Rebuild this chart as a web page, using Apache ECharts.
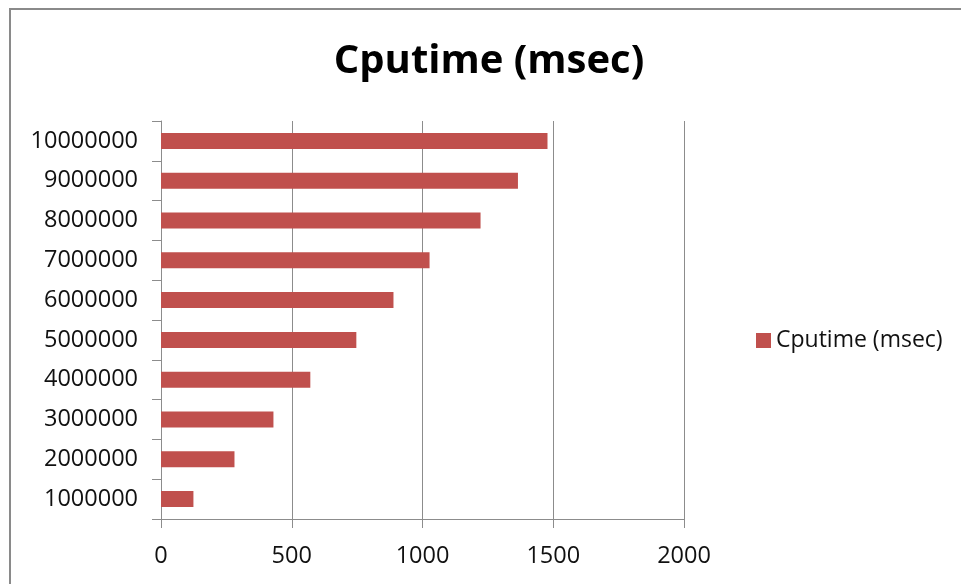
<!DOCTYPE html>
<html>
<head>
<meta charset="utf-8">
<script src="https://cdn.jsdelivr.net/npm/echarts@6/dist/echarts.min.js"></script>
<style>
  html, body { margin: 0; padding: 0; background: #fff; }
  #chart { width: 961px; height: 584px; }
</style>
</head>
<body>
<div id="chart"></div>
<script>
// Problem sizes (bottom to top) and measured CPU time in milliseconds
const sizes = ['1000000', '2000000', '3000000', '4000000', '5000000',
               '6000000', '7000000', '8000000', '9000000', '10000000'];
const cputime = [124, 281, 430, 571, 747, 889, 1027, 1222, 1365, 1478];
const seriesName = 'Cputime (msec)';
const xMin = 0, xMax = 2000, xStep = 500;

const font = '"Open Sans", Lato, sans-serif';
const chart = echarts.init(document.getElementById('chart'));
chart.setOption({
  backgroundColor: '#fff',
  animation: false,
  title: {
    text: seriesName,
    left: 484,
    top: 37,
    textAlign: 'center',
    textStyle: { fontFamily: font, fontSize: 40, fontWeight: 'bold', color: '#000' }
  },
  legend: {
    data: [seriesName],
    left: 751,
    top: 324,
    itemWidth: 15,
    itemHeight: 15,
    itemGap: 8,
    icon: 'rect',
    textStyle: { fontFamily: font, fontSize: 23, color: '#111' }
  },
  grid: { left: 161, right: 277, top: 121, bottom: 65, containLabel: false },
  xAxis: {
    type: 'value',
    min: xMin,
    max: xMax,
    interval: xStep,
    axisLine: { show: true, lineStyle: { color: '#8c8c8c', width: 1 } },
    axisTick: { show: true, length: 9, lineStyle: { color: '#8c8c8c' } },
    splitLine: { show: true, lineStyle: { color: '#8c8c8c', width: 1 } },
    axisLabel: {
      margin: 25, fontFamily: font, fontSize: 23.5, color: '#111',
      formatter: v => String(v)
    }
  },
  yAxis: {
    type: 'category',
    data: sizes,
    axisLine: { show: true, lineStyle: { color: '#8c8c8c', width: 1 } },
    axisTick: { show: true, length: 9, alignWithLabel: false, lineStyle: { color: '#8c8c8c' } },
    axisLabel: { margin: 23, fontFamily: font, fontSize: 23.5, color: '#111' }
  },
  series: [{
    name: seriesName,
    type: 'bar',
    data: cputime,
    barWidth: 16,
    itemStyle: { color: '#C0504D' }
  }],
  graphic: [{
    type: 'rect',
    silent: true,
    shape: { x: 10, y: 9, width: 1200, height: 1000 },
    style: { fill: 'none', stroke: '#8a8a8a', lineWidth: 2 }
  }]
});
</script>
</body>
</html>
